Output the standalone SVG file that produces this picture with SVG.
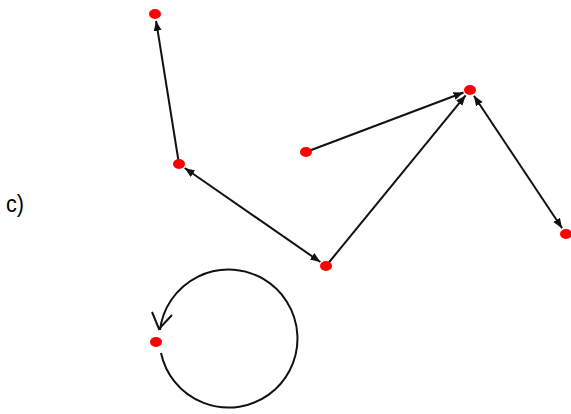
<svg xmlns="http://www.w3.org/2000/svg" width="571" height="414" viewBox="0 0 571 414">
<style>
.e{stroke:#111;stroke-width:2;fill:none}
.n{fill:#f00}
.lbl{font-family:"Liberation Sans",Arial,sans-serif;font-size:23px;fill:#000}
</style>
<defs>
<marker id="ah" viewBox="0 0 10 10" refX="10" refY="5" markerWidth="5" markerHeight="5" orient="auto-start-reverse" markerUnits="strokeWidth">
<path d="M0,1 L10,5 L0,9 z" fill="#111"/>
</marker>
</defs>
<text class="lbl" x="6" y="212" textLength="18" lengthAdjust="spacingAndGlyphs">c)</text>
<g id="connectors">
<line class="e" x1="179" y1="164" x2="156.1" y2="20.9" marker-end="url(#ah)"/>
<line class="e" x1="184.7" y1="168" x2="320.3" y2="262" marker-start="url(#ah)" marker-end="url(#ah)"/>
<line class="e" x1="306" y1="152" x2="463.5" y2="92.5" marker-end="url(#ah)"/>
<line class="e" x1="326" y1="266" x2="465.6" y2="95.4" marker-end="url(#ah)"/>
<line class="e" x1="473.9" y1="95.8" x2="562.1" y2="228.2" marker-start="url(#ah)" marker-end="url(#ah)"/>
<path class="e" d="M161,353 A69,69 0 1 0 160,330" stroke-width="1.8"/>
<path class="e" d="M152,312 L159,329 L172,315" stroke-width="1.8"/>
</g>
<g id="n1"><ellipse class="n" cx="155" cy="14" rx="6" ry="5"/></g>
<g id="n2"><ellipse class="n" cx="179" cy="164" rx="6" ry="5"/></g>
<g id="n3"><ellipse class="n" cx="306" cy="152" rx="6" ry="5"/></g>
<g id="n4"><ellipse class="n" cx="470" cy="90" rx="6" ry="5"/></g>
<g id="n5"><ellipse class="n" cx="326" cy="266" rx="6" ry="5"/></g>
<g id="n6"><ellipse class="n" cx="566" cy="234" rx="6" ry="5"/></g>
<g id="n7"><ellipse class="n" cx="156" cy="342" rx="6" ry="5"/></g>
</svg>
